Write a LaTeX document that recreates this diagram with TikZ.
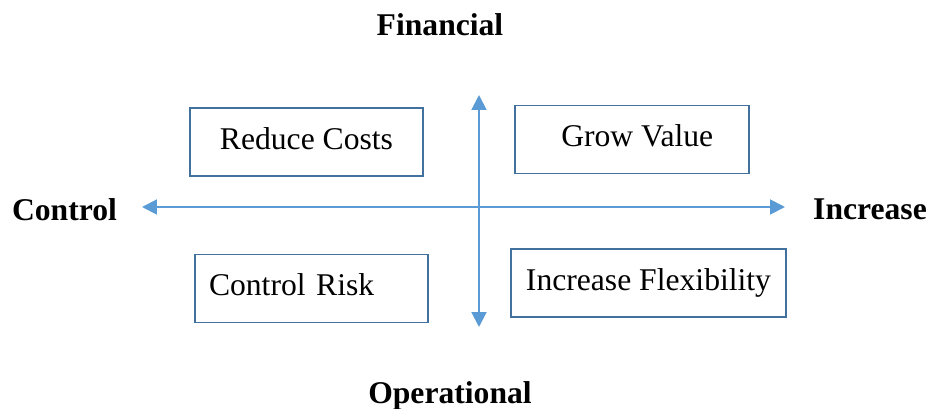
\documentclass[tikz,border=0pt]{standalone}
\usepackage{fontspec}
\setmainfont{Liberation Serif}
\usepackage{xcolor}
\usetikzlibrary{arrows.meta, positioning}

\definecolor{boxblue}{HTML}{41719C}
\definecolor{axisblue}{HTML}{5B9BD5}

\begin{document}
\begin{tikzpicture}[x=0.02cm, y=-0.02cm,
    quadbox/.style={draw=boxblue, line width=1.1pt, minimum height=1.36cm,
        text depth=0.45em, font=\fontsize{18}{21}\selectfont},
    axislabel/.style={anchor=base, font=\fontsize{18}{21}\selectfont\bfseries},
    axisline/.style={draw=axisblue, line width=1.1pt,
        {Triangle[length=8.5pt, width=8.5pt]}-{Triangle[length=8.5pt, width=8.5pt]}}]

    % Khung ngoai co dinh kich thuoc hinh
    \useasboundingbox (0,0) rectangle (931,409);

    % =================================================================
    % HAI TRUC: NGANG (Control - Increase) VA DOC (Financial - Operational)
    % =================================================================
    \coordinate (W) at (142,207);
    \coordinate (E) at (785,207);
    \coordinate (N) at (479,95);
    \coordinate (S) at (479,327);

    \draw[axisline] (W) -- (E);
    \draw[axisline] (N) -- (S);

    % Nhan cua cac truc
    \node[axislabel] (financial) at (440,35) {Financial};
    \node[axislabel] (operational) at (450,403) {Operational};
    \node[axislabel] (control) at (64.5,220) {Control};
    \node[axislabel] (increase) at (870,219) {Increase};

    % =================================================================
    % BON O TRONG BON GOC PHAN TU
    % =================================================================
    \node[quadbox, minimum width=4.66cm] (reduce) at (306.5,142) {Reduce Costs};
    \node[quadbox, minimum width=4.68cm] (grow) at (632,139.5) {\hspace{6pt}Grow Value};
    \node[quadbox, text width=4.1cm, inner xsep=0.28cm, align=left] (risk)
        at (311.5,288.5) {Control Risk};
    \node[quadbox, minimum width=5.5cm] (flex) at (648.5,283) {Increase Flexibility};

\end{tikzpicture}
\end{document}
